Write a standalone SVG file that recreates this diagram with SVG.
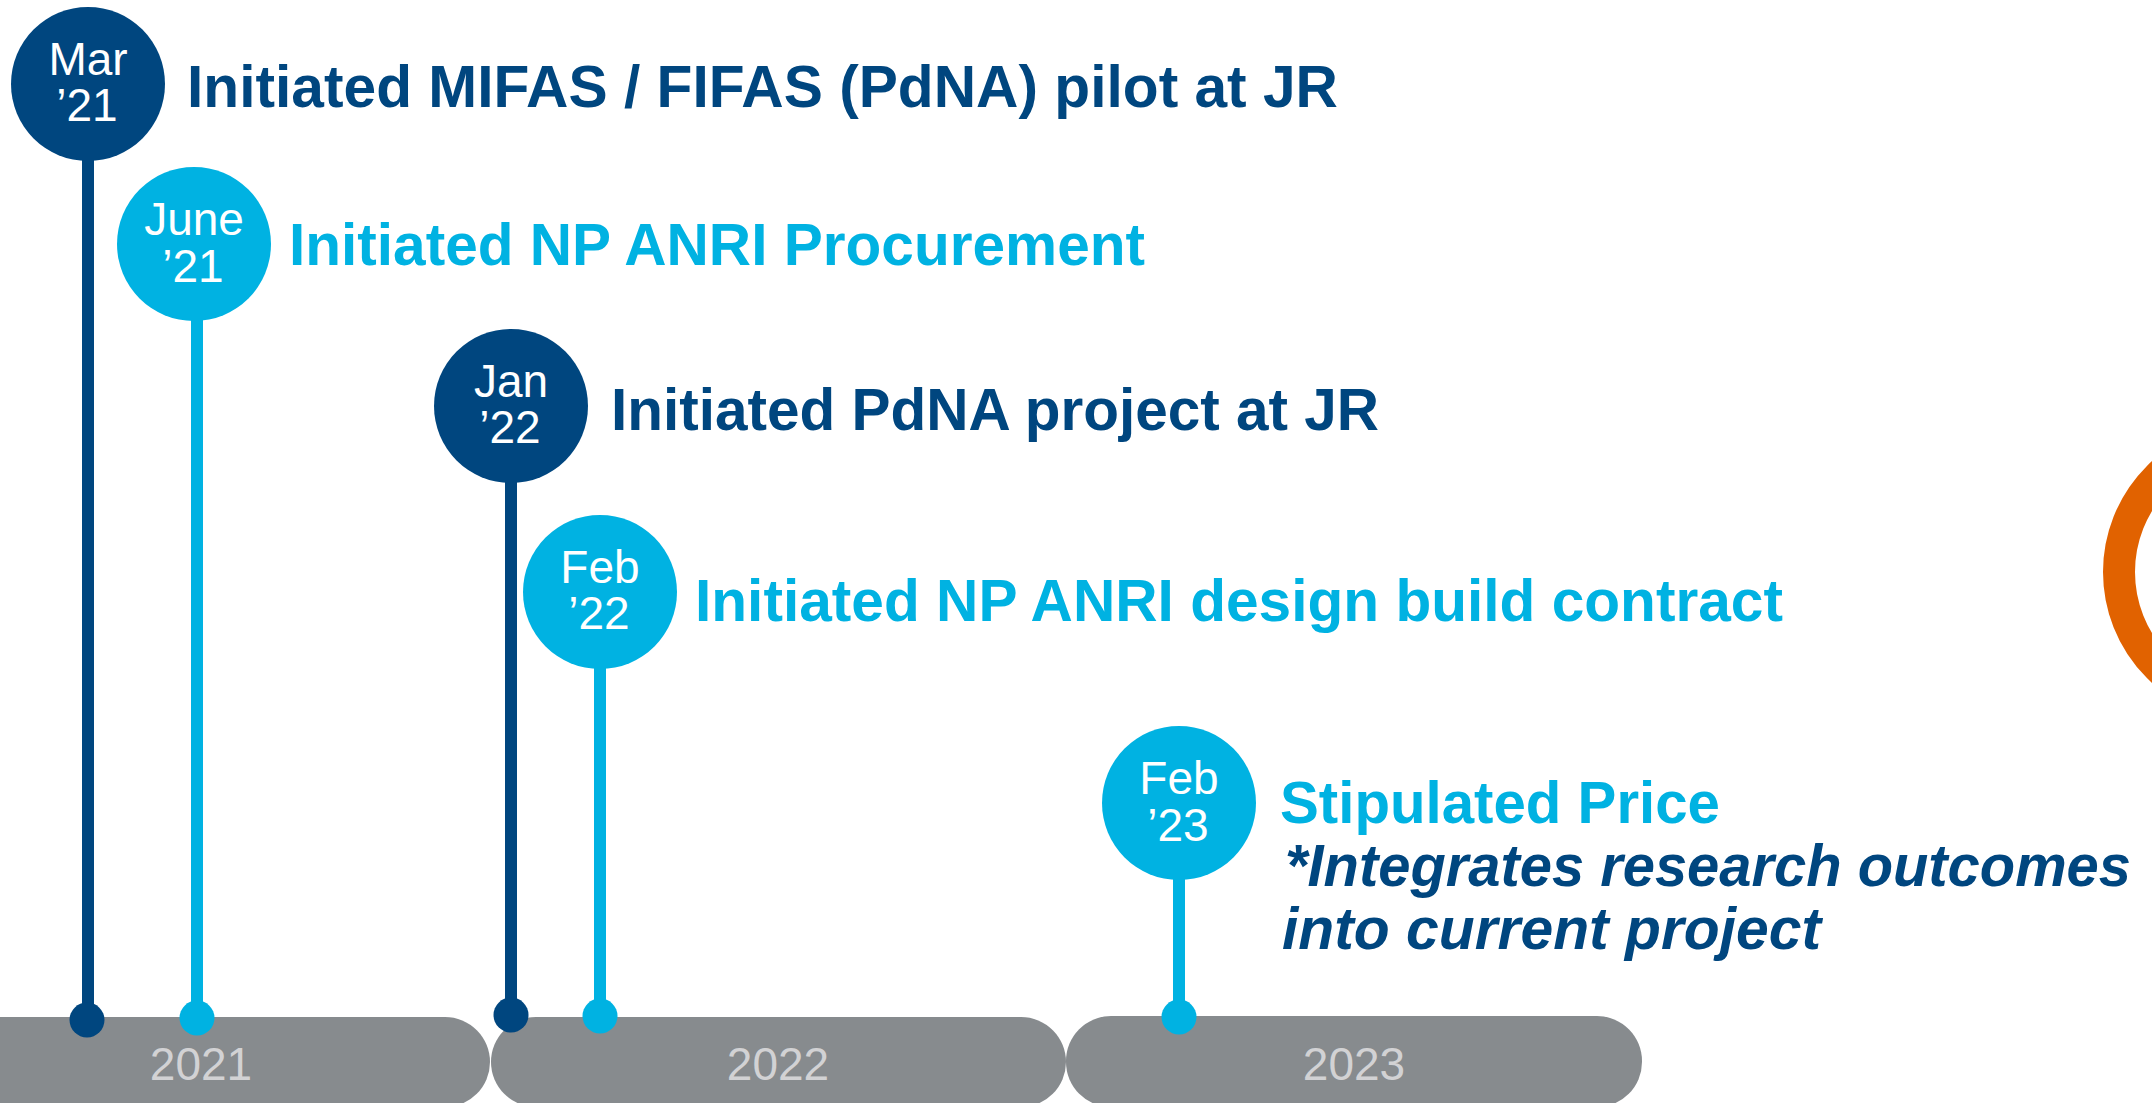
<svg xmlns="http://www.w3.org/2000/svg" width="2152" height="1103" viewBox="0 0 2152 1103">
<style>
.navy{fill:#00467F}
.blue{fill:#00B2E2}
.bar{fill:#878B8E}
.yr{font-family:"Liberation Sans",Arial,sans-serif;font-size:46px;fill:#D2D2D4;text-anchor:middle}
.dt{font-family:"Liberation Sans",Arial,sans-serif;font-size:46px;fill:#FFFFFF;text-anchor:middle}
.lbl{font-family:"Liberation Sans",Arial,sans-serif;font-size:58.5px;font-weight:bold}
.it{font-style:italic}
.stemN{stroke:#00467F;stroke-width:12}
.stemB{stroke:#00B2E2;stroke-width:12}
</style>
<rect width="2152" height="1103" fill="#FFFFFF"/>
<g id="ring">
<circle cx="2253" cy="572" r="134" fill="none" stroke="#E16200" stroke-width="32"/>
</g>
<g id="bars">
<rect class="bar" x="-86" y="1017" width="576" height="90" rx="45" ry="45"/>
<rect class="bar" x="491" y="1017" width="575" height="90" rx="45" ry="45"/>
<rect class="bar" x="1066" y="1016" width="576" height="91" rx="45" ry="45"/>
<text class="yr" x="201" y="1080">2021</text>
<text class="yr" x="778" y="1080">2022</text>
<text class="yr" x="1354" y="1080">2023</text>
</g>
<g id="connectors">
<line class="stemN" x1="88" y1="150" x2="88" y2="1010"/>
<line class="stemB" x1="197" y1="310" x2="197" y2="1010"/>
<line class="stemN" x1="511" y1="470" x2="511" y2="1005"/>
<line class="stemB" x1="600" y1="660" x2="600" y2="1005"/>
<line class="stemB" x1="1179" y1="870" x2="1179" y2="1005"/>
<circle class="navy" cx="87" cy="1020" r="17.5"/>
<circle class="blue" cx="197" cy="1018" r="17.5"/>
<circle class="navy" cx="511" cy="1015" r="17.5"/>
<circle class="blue" cx="600" cy="1016" r="17.5"/>
<circle class="blue" cx="1179" cy="1017" r="17.5"/>
</g>
<g id="node-mar21">
<circle class="navy" cx="88" cy="84" r="77"/>
<text class="dt"><tspan x="88" y="75">Mar</tspan><tspan x="87" y="121">’21</tspan></text>
<text class="lbl navy" x="187" y="107" textLength="1151" lengthAdjust="spacingAndGlyphs">Initiated MIFAS / FIFAS (PdNA) pilot at JR</text>
</g>
<g id="node-jun21">
<circle class="blue" cx="194" cy="244" r="77"/>
<text class="dt"><tspan x="194" y="235">June</tspan><tspan x="193" y="282">’21</tspan></text>
<text class="lbl blue" x="289" y="265" textLength="856" lengthAdjust="spacingAndGlyphs">Initiated NP ANRI Procurement</text>
</g>
<g id="node-jan22">
<circle class="navy" cx="511" cy="406" r="77"/>
<text class="dt"><tspan x="511" y="397">Jan</tspan><tspan x="510" y="443">’22</tspan></text>
<text class="lbl navy" x="611" y="430" textLength="768" lengthAdjust="spacingAndGlyphs">Initiated PdNA project at JR</text>
</g>
<g id="node-feb22">
<circle class="blue" cx="600" cy="592" r="77"/>
<text class="dt"><tspan x="600" y="583">Feb</tspan><tspan x="599" y="629">’22</tspan></text>
<text class="lbl blue" x="695" y="621" textLength="1088" lengthAdjust="spacingAndGlyphs">Initiated NP ANRI design build contract</text>
</g>
<g id="node-feb23">
<circle class="blue" cx="1179" cy="803" r="77"/>
<text class="dt"><tspan x="1179" y="794">Feb</tspan><tspan x="1178" y="841">’23</tspan></text>
<text class="lbl blue" x="1280" y="823" textLength="440" lengthAdjust="spacingAndGlyphs">Stipulated Price</text>
<text class="lbl navy it" x="1285" y="886" textLength="846" lengthAdjust="spacingAndGlyphs">*Integrates research outcomes</text>
<text class="lbl navy it" x="1282" y="949" textLength="539" lengthAdjust="spacingAndGlyphs">into current project</text>
</g>
</svg>
